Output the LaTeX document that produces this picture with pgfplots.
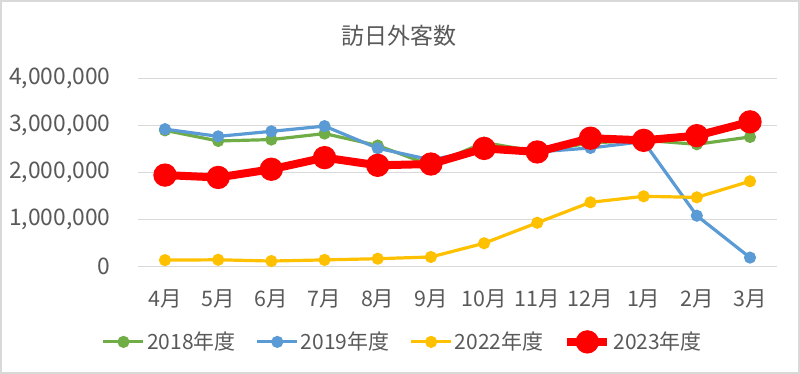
\documentclass[border=0pt]{standalone}
\usepackage{fontspec}
\setmainfont{Noto Sans CJK JP}
\usepackage{pgfplots}
\pgfplotsset{compat=1.18}
\definecolor{cgreen}{HTML}{70AD47}
\definecolor{cblue}{HTML}{5B9BD5}
\definecolor{cyellow}{HTML}{FFC000}
\definecolor{cred}{HTML}{FF0000}
\definecolor{ctext}{HTML}{595959}
\definecolor{cgrid}{HTML}{D9D9D9}
\begin{document}
\begin{tikzpicture}
\path[use as bounding box] (0,0) rectangle (400pt,187pt);
\draw[cgrid, line width=0.8pt] (0.4pt,0.4pt) rectangle (399.6pt,186.6pt);
\node[text=ctext, font=\fontsize{11.5}{13}\selectfont] at (199.5pt,169pt) {訪日外客数};
\begin{axis}[
  at={(69.2pt,53.65pt)}, anchor=south west,
  scale only axis, width=319.1pt, height=94pt,
  xmin=-0.5, xmax=11.5, ymin=0, ymax=4000000,
  xtick={0,...,11},
  xticklabels={4月,5月,6月,7月,8月,9月,10月,11月,12月,1月,2月,3月},
  ytick={0,1000000,2000000,3000000,4000000},
  scaled y ticks=false,
  /pgf/number format/.cd, fixed, 1000 sep={,}, assume math mode=true, /pgfplots/.cd,
  ymajorgrids, major grid style={cgrid, line width=0.6pt},
  axis line style={draw=none},
  major tick length=0pt,
  tick label style={text=ctext, font=\fontsize{10.7}{12}\selectfont},
  yticklabel style={font=\fontsize{11.4}{13}\selectfont, xshift=-10.5pt},
  xticklabel style={yshift=-8pt},
  clip=false,
  legend columns=4,
  legend style={at={(rel axis cs:0.4145,0)}, anchor=center, yshift=-37.6pt,
    draw=none, fill=none, text=ctext, font=\fontsize{10.5}{12}\selectfont,
    /tikz/every even column/.append style={column sep=9pt},
    nodes={inner xsep=1pt}},
  legend image code/.code={\draw[mark repeat=2,mark phase=2] plot coordinates {(0pt,0pt)(10pt,0pt)(20pt,0pt)};},
]
\addplot[cgreen, line width=1.6pt, mark=*, mark size=2.2pt] coordinates {
(0,2900718)(1,2675052)(2,2704631)(3,2832040)(4,2578021)(5,2159600)(6,2640610)(7,2448793)(8,2632895)(9,2689339)(10,2604322)(11,2760136)};
\addlegendentry{2018年度}
\addplot[cblue, line width=1.6pt, mark=*, mark size=2.2pt] coordinates {
(0,2926685)(1,2773091)(2,2880041)(3,2991189)(4,2520134)(5,2272883)(6,2496568)(7,2441274)(8,2526387)(9,2661022)(10,1085147)(11,193658)};
\addlegendentry{2019年度}
\addplot[cyellow, line width=1.6pt, mark=*, mark size=2.2pt] coordinates {
(0,139548)(1,147046)(2,120430)(3,144578)(4,169902)(5,206641)(6,498646)(7,934599)(8,1370114)(9,1497472)(10,1475455)(11,1817500)};
\addlegendentry{2022年度}
\addplot[cred, line width=4pt, mark=*, mark size=3.8pt] coordinates {
(0,1949100)(1,1898900)(2,2073300)(3,2320600)(4,2156900)(5,2184300)(6,2516500)(7,2441300)(8,2734000)(9,2688100)(10,2788000)(11,3081600)};
\addlegendentry{2023年度}
\end{axis}
\end{tikzpicture}
\end{document}
